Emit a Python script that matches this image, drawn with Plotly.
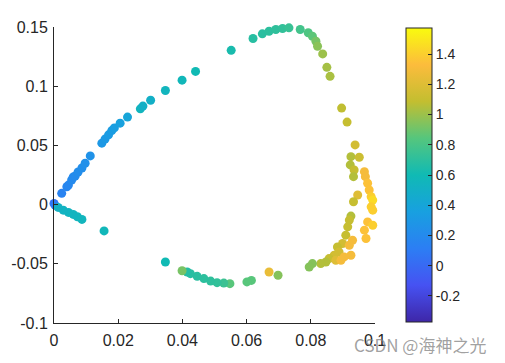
import plotly.graph_objects as go

x_vals = [0.0000, 0.0003, 0.0024, 0.0040, 0.0045, 0.0055, 0.0060, 0.0066, 0.0075, 0.0087,
          0.0097, 0.0113, 0.0149, 0.0159, 0.0170, 0.0180, 0.0188, 0.0206, 0.0229, 0.0269,
          0.0277, 0.0301, 0.0347, 0.0399, 0.0441, 0.0552, 0.0620, 0.0649, 0.0670, 0.0691,
          0.0712, 0.0732, 0.0767, 0.0792, 0.0805, 0.0816, 0.0821, 0.0837, 0.0850, 0.0860,
          0.0896, 0.0913, 0.0938, 0.0925, 0.0951, 0.0923, 0.0935, 0.0967, 0.0970, 0.0933,
          0.0977, 0.0982, 0.0946, 0.0988, 0.0993, 0.0933, 0.0988, 0.1003, 0.0993, 0.0925,
          0.0920, 0.0915, 0.0977, 0.0993, 0.1003, 0.1008, 0.0967, 0.0972, 0.0909, 0.0930,
          0.0899, 0.0920, 0.0883, 0.0925, 0.0888, 0.0904, 0.0873, 0.0857, 0.0878, 0.0847,
          0.0894, 0.0831, 0.0805, 0.0795, 0.0698, 0.0670, 0.0615, 0.0601, 0.0548, 0.0529,
          0.0508, 0.0488, 0.0467, 0.0446, 0.0425, 0.0415, 0.0399, 0.0347, 0.0156, 0.0087,
          0.0073, 0.0060, 0.0045, 0.0029, 0.0013]
y_vals = [0.0010, -0.0004, 0.0095, 0.0151, 0.0165, 0.0208, 0.0233, 0.0242, 0.0275, 0.0309,
          0.0349, 0.0411, 0.0519, 0.0553, 0.0589, 0.0625, 0.0648, 0.0688, 0.0739, 0.0809,
          0.0832, 0.0881, 0.0964, 0.1051, 0.1125, 0.1303, 0.1403, 0.1442, 0.1464, 0.1479,
          0.1487, 0.1493, 0.1479, 0.1451, 0.1422, 0.1380, 0.1337, 0.1273, 0.1159, 0.1083,
          0.0815, 0.0697, 0.0504, 0.0405, 0.0400, 0.0335, 0.0292, 0.0278, 0.0236, 0.0236,
          0.0180, 0.0123, 0.0081, 0.0066, 0.0038, 0.0024, -0.0019, 0.0004, -0.0047, -0.0097,
          -0.0131, -0.0188, -0.0146, -0.0174, -0.0216, -0.0267, -0.0216, -0.0286, -0.0258, -0.0301,
          -0.0329, -0.0343, -0.0358, -0.0428, -0.0400, -0.0442, -0.0428, -0.0456, -0.0470, -0.0485,
          -0.0470, -0.0498, -0.0498, -0.0527, -0.0597, -0.0569, -0.0640, -0.0653, -0.0668, -0.0663,
          -0.0659, -0.0646, -0.0625, -0.0606, -0.0583, -0.0569, -0.0559, -0.0485, -0.0222, -0.0125,
          -0.0103, -0.0083, -0.0066, -0.0047, -0.0024]
c_vals = [0.05, 0.10, 0.15, 0.17, 0.18, 0.20, 0.20, 0.21, 0.22, 0.23,
          0.24, 0.26, 0.30, 0.31, 0.32, 0.33, 0.34, 0.37, 0.40, 0.55,
          0.50, 0.50, 0.55, 0.57, 0.60, 0.63, 0.68, 0.69, 0.70, 0.71,
          0.72, 0.74, 0.78, 0.82, 0.86, 0.92, 0.96, 1.00, 1.02, 1.03,
          1.08, 1.10, 1.15, 1.05, 1.12, 1.05, 1.10, 1.30, 1.30, 1.05,
          1.35, 1.35, 1.20, 1.40, 1.45, 1.10, 1.40, 1.45, 1.40, 1.05,
          1.10, 1.10, 1.35, 1.40, 1.50, 1.55, 1.35, 1.35, 1.10, 1.30,
          1.15, 1.30, 1.10, 1.30, 1.15, 1.30, 1.15, 1.10, 1.20, 1.05,
          1.30, 1.05, 0.95, 0.95, 0.95, 1.25, 0.85, 0.85, 0.85, 0.75,
          0.72, 0.71, 0.70, 0.69, 0.68, 0.67, 0.92, 0.60, 0.57, 0.55,
          0.55, 0.54, 0.54, 0.53, 0.52]

x_ticks = [0, 0.02, 0.04, 0.06, 0.08, 0.1]
x_ticktext = ["0", "0.02", "0.04", "0.06", "0.08", "0.1"]
y_ticks = [-0.1, -0.05, 0, 0.05, 0.1, 0.15]
y_ticktext = ["-0.1", "-0.05", "0", "0.05", "0.1", "0.15"]
cb_ticks = [-0.2, 0, 0.2, 0.4, 0.6, 0.8, 1, 1.2, 1.4]
cb_ticktext = ["-0.2", "0", "0.2", "0.4", "0.6", "0.8", "1", "1.2", "1.4"]

parula = [
    [0.000, "rgb(62,38,168)"],
    [0.125, "rgb(70,82,242)"],
    [0.250, "rgb(44,126,244)"],
    [0.375, "rgb(24,160,224)"],
    [0.500, "rgb(16,186,180)"],
    [0.625, "rgb(85,198,125)"],
    [0.750, "rgb(195,190,48)"],
    [0.875, "rgb(252,188,60)"],
    [1.000, "rgb(249,251,14)"],
]

font = dict(family="Liberation Sans, Arial, sans-serif", size=16, color="#262626")
cb_font = dict(family="Liberation Sans, Arial, sans-serif", size=14, color="#262626")

fig = go.Figure(go.Scatter(
    x=x_vals, y=y_vals, mode="markers", cliponaxis=False,
    marker=dict(size=9, color=c_vals, colorscale=parula, cmin=-0.372, cmax=1.572,
                line=dict(width=0),
                colorbar=dict(x=1.0966, xanchor="left", xpad=0, ypad=0,
                              y=0.5, yanchor="middle", len=0.993, lenmode="fraction",
                              thickness=26, thicknessmode="pixels",
                              outlinecolor="#262626", outlinewidth=1,
                              tickvals=cb_ticks, ticktext=cb_ticktext,
                              ticks="inside", ticklen=4, tickcolor="#262626",
                              tickfont=cb_font)),
    showlegend=False))

fig.update_layout(
    width=505, height=363, margin=dict(l=46, r=138, t=19, b=48, autoexpand=False),
    paper_bgcolor="white", plot_bgcolor="white", font=font,
    xaxis=dict(range=[0, 0.1], tickvals=x_ticks, ticktext=x_ticktext, showgrid=False,
               zeroline=False, showline=True, linecolor="#262626", linewidth=1,
               ticks="inside", ticklen=4, tickcolor="#262626", tickfont=font,
               automargin=False, ticklabelstandoff=3),
    yaxis=dict(range=[-0.1, 0.15], tickvals=y_ticks, ticktext=y_ticktext, showgrid=False,
               zeroline=False, showline=True, linecolor="#262626", linewidth=1,
               ticks="inside", ticklen=4, tickcolor="#262626", tickfont=font,
               automargin=False, ticklabelstandoff=2),
    annotations=[dict(text="CSDN @海神之光", xref="paper", yref="paper",
                      x=1.352, y=-0.0743, xanchor="right", yanchor="middle",
                      showarrow=False,
                      font=dict(family="Noto Sans CJK SC, sans-serif", size=17,
                                color="rgba(130,130,130,0.75)"))],
)

fig.write_html("out.html")
